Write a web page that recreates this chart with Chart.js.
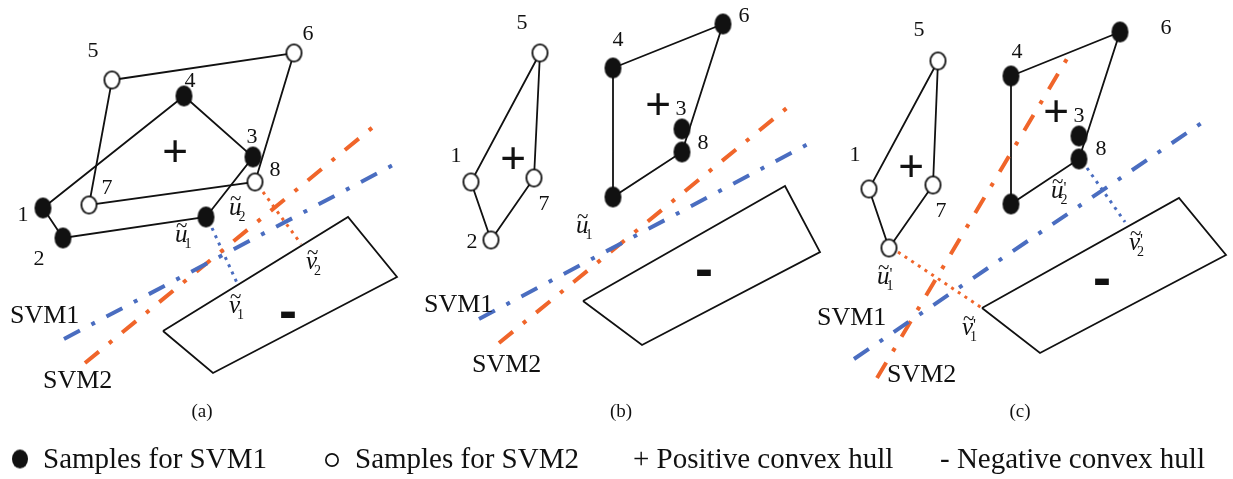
<!DOCTYPE html>
<html><head><meta charset="utf-8">
<script src="https://cdn.jsdelivr.net/npm/chart.js@4.4.1/dist/chart.umd.min.js"></script>
<style>html,body{margin:0;padding:0;background:#fff;overflow:hidden}canvas{display:block}</style>
</head><body>
<canvas id="c" width="1233" height="479"></canvas>
<script>
// ---------- data (diagram coordinates) ----------
// Panel (a)
const aOpenHull   = [[112,80],[294,53],[255,182],[89,205]];            // 5,6,8,7  (SVM2 samples)
const aFilledHull = [[184,96],[253,157],[206,217],[63,238],[43,208]];  // 4,3,u1,2,1 (SVM1 samples)
const aNegHull    = [[163,331],[348,217],[397,277],[213,373]];
const aSVM1 = [[64,339],[393,165]];
const aSVM2 = [[85,363],[373,127]];
const aDotBlue   = [[212,228],[237,283]];
const aDotOrange = [[263,192],[301,244]];
// Panel (b)
const bOpenHull   = [[540,53],[471,182],[491,240],[534,178]];          // 5,1,2,7
const bFilledHull = [[613,68],[723,24],[682,152],[613,197]];           // 4,6,8,u1
const bExtraFilled = [[682,129]];                                      // 3
const bNegHull    = [[583,301],[785,186],[820,252],[642,345]];
const bSVM1 = [[479,319],[808,144]];
const bSVM2 = [[499,343],[788,107]];
// Panel (c)
const cOpenHull   = [[938,61],[869,189],[889,248],[933,185]];          // 5,1,u1',7
const cFilledHull = [[1011,76],[1120,32],[1079,159],[1011,204]];       // 4,6,8,u2'
const cExtraFilled = [[1079,136]];                                     // 3
const cNegHull    = [[982,308],[1179,198],[1226,255],[1040,353]];
const cSVM1 = [[854,359],[1203,122]];
const cSVM2 = [[877,378],[1068,57]];
const cDotOrange = [[898,252],[982,308]];
const cDotBlue   = [[1087,168],[1125,222]];
// legend markers
const legendFilled = [[20,459]];
const legendOpen   = [[332,460]];

// ---------- text ----------
const numberLabels = [
  ['5',93,50],['6',308,33],['4',190,80],['3',252,136],['8',275,169],['7',107,187],['1',23,214],['2',39,258],
  ['5',522,22],['1',456,155],['7',544,203],['2',472,241],['4',618,39],['6',744,15],['3',681,108],['8',703,142],
  ['5',919,29],['1',855,154],['7',941,210],['4',1017,51],['6',1166,27],['3',1079,115],['8',1101,148]
];
const plusLabels  = [[175,153],[513,160],[658,106],[911,168],[1056,113]];
const minusLabels = [[288,313],[704,271],[1102,280]];
const svmLabels = [
  ['SVM1',10,323],['SVM2',43,388],
  ['SVM1',424,312],['SVM2',472,372],
  ['SVM1',817,325],['SVM2',887,382]
];
const tildeLabels = [
  ['u','1',false,175,242],['u','2',false,229,215],['v','2',false,306,269],['v','1',false,229,313],
  ['u','1',false,576,233],
  ['u','1',true,877,284],['v','1',true,962,335],['u','2',true,1051,198],['v','2',true,1129,250]
];
const captions = [['(a)',202,417],['(b)',621,417],['(c)',1020,417]];
const legendTexts = [
  ['Samples for SVM1',43,468],['Samples for SVM2',355,468],
  ['+ Positive convex hull',633,468],['- Negative convex hull',940,468]
];

// ---------- helpers ----------
const ORANGE = '#F0652A', BLUE = '#4A6DC0', BLACK = '#111';
const xy = a => a.map(([x,y]) => ({x,y}));
const closed = a => xy([...a, a[0]]);
function ellipse(w,h,fill,stroke,lw){
  const c=document.createElement('canvas'); c.width=w+4; c.height=h+4;
  const g=c.getContext('2d'); g.beginPath();
  g.ellipse(c.width/2,c.height/2,w/2-(stroke?lw/2:0),h/2-(stroke?lw/2:0),0,0,Math.PI*2);
  g.fillStyle=fill; g.fill();
  if(stroke){g.lineWidth=lw; g.strokeStyle=stroke; g.stroke();}
  return c;
}
const filledStyle = ellipse(17,21,BLACK,null,0);
const openStyle   = ellipse(17,19,'#fff',BLACK,1.8);
const legFilledStyle = ellipse(16,19,BLACK,null,0);
const legOpenStyle   = ellipse(14,14,'#fff',BLACK,1.7);

const hull = (d) => ({data:closed(d), showLine:true, borderColor:BLACK, borderWidth:1.8, pointRadius:0, fill:false, clip:false, order:5});
const svm = (d,col) => ({data:xy(d), showLine:true, borderColor:col, borderWidth:4, borderDash:[18,13,4,13], borderCapStyle:'butt', pointRadius:0, clip:false, order:4});
const dotted = (d,col) => ({data:xy(d), showLine:true, borderColor:col, borderWidth:3, borderDash:[3,5], pointRadius:0, clip:false, order:4});
const pts = (d,style) => ({data:xy(d), showLine:false, pointStyle:style, pointRadius:9, pointBorderWidth:1, pointHoverRadius:9, clip:false, order:1});
// Chart.js pads the chart area by the largest point overflow: (radius 9 + border 1) = 10px
const PAD = 10;

const textPlugin = {
  id:'texts',
  afterDatasetsDraw(chart){
    const ctx=chart.ctx, sx=chart.scales.x, sy=chart.scales.y;
    const P=(x,y)=>[sx.getPixelForValue(x), sy.getPixelForValue(y)];
    ctx.save(); ctx.fillStyle=BLACK;
    ctx.font='22px "Liberation Serif"'; ctx.textAlign='center'; ctx.textBaseline='middle';
    numberLabels.forEach(([t,x,y])=>{const [px,py]=P(x,y); ctx.fillText(t,px,py+1);});
    ctx.font='bold 46px "Liberation Serif"';
    plusLabels.forEach(([x,y])=>{const [px,py]=P(x,y); ctx.fillText('+',px,py+2);});
    ctx.font='bold 54px "Liberation Sans"';
    minusLabels.forEach(([x,y])=>{const [px,py]=P(x,y); ctx.fillText('-',px,py+1);});
    ctx.textAlign='left'; ctx.textBaseline='alphabetic';
    ctx.font='26px "Liberation Serif"';
    svmLabels.forEach(([t,x,y])=>{const [px,py]=P(x,y); ctx.fillText(t,px,py);});
    tildeLabels.forEach(([ch,sub,prime,x,y])=>{
      const [px,py]=P(x,y);
      ctx.font='italic 25px "Liberation Serif"'; ctx.fillText(ch,px,py);
      const w=ctx.measureText(ch).width;
      ctx.font='21px "Liberation Serif"'; ctx.fillText('~',px+1,py-10);
      ctx.font='14px "Liberation Serif"'; ctx.fillText(sub,px+w-3,py+6);
      if(prime){ctx.font='16px "Liberation Serif"'; ctx.fillText("'",px+w,py-5);}
    });
    ctx.textAlign='center';
    ctx.font='19px "Liberation Serif"';
    captions.forEach(([t,x,y])=>{const [px,py]=P(x,y); ctx.fillText(t,px,py);});
    ctx.textAlign='left';
    ctx.font='29px "Liberation Serif"';
    legendTexts.forEach(([t,x,y])=>{const [px,py]=P(x,y); ctx.fillText(t,px,py);});
    ctx.restore();
  }
};

new Chart(document.getElementById('c'), {
  type:'scatter',
  data:{datasets:[
    hull(aOpenHull), hull(aFilledHull), hull(aNegHull),
    hull(bOpenHull), hull(bFilledHull), hull(bNegHull),
    hull(cOpenHull), hull(cFilledHull), hull(cNegHull),
    svm(aSVM1,BLUE), svm(aSVM2,ORANGE), svm(bSVM1,BLUE), svm(bSVM2,ORANGE), svm(cSVM1,BLUE), svm(cSVM2,ORANGE),
    dotted(aDotBlue,BLUE), dotted(aDotOrange,ORANGE), dotted(cDotOrange,ORANGE), dotted(cDotBlue,BLUE),
    pts([...aOpenHull, ...bOpenHull, ...cOpenHull], openStyle),
    pts([...aFilledHull, ...bFilledHull, ...bExtraFilled, ...cFilledHull, ...cExtraFilled], filledStyle),
    pts(legendFilled, legFilledStyle), pts(legendOpen, legOpenStyle)
  ]},
  options:{
    responsive:false, animation:false, devicePixelRatio:1,
    layout:{padding:0},
    events:[],
    plugins:{legend:{display:false}, tooltip:{enabled:false}},
    scales:{
      x:{type:'linear', min:PAD, max:1233-PAD, display:false},
      y:{type:'linear', min:PAD, max:479-PAD, reverse:true, display:false}
    }
  },
  plugins:[textPlugin]
});
</script>
</body></html>
